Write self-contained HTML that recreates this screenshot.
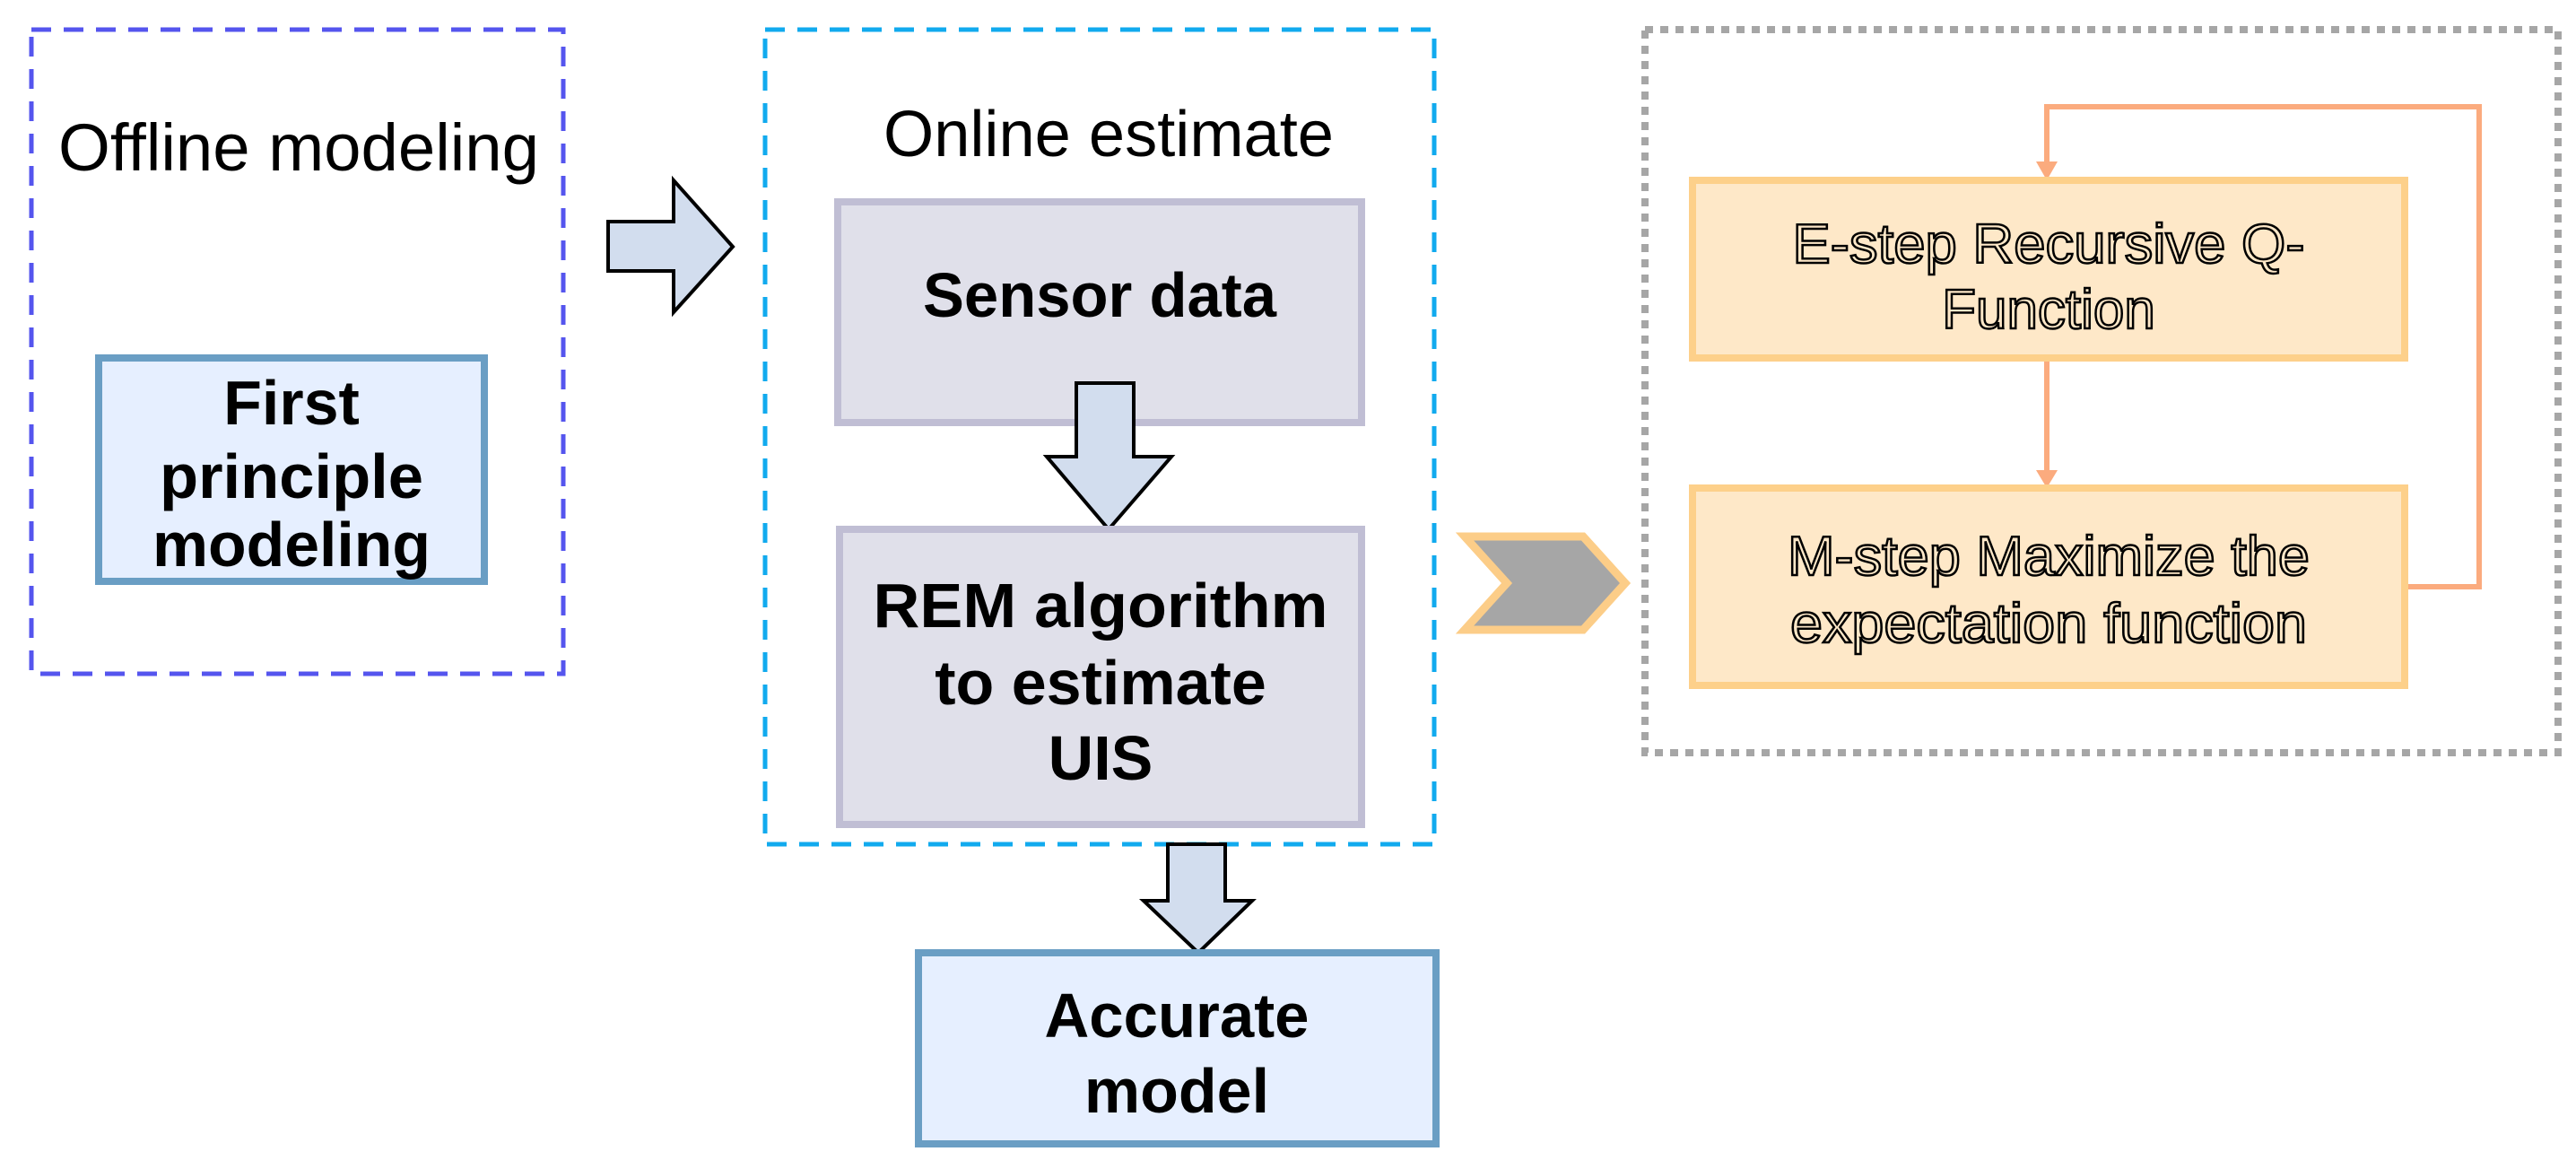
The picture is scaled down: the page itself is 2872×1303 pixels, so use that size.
<!DOCTYPE html>
<html><head><meta charset="utf-8"><style>
html,body{margin:0;padding:0;background:#fff;}
svg{display:block;}
text{font-family:"Liberation Sans",sans-serif;}
</style></head><body>
<svg width="2872" height="1303" viewBox="0 0 2872 1303" xmlns="http://www.w3.org/2000/svg">
<!-- Offline box -->
<rect x="35" y="33" width="593" height="718" fill="none" stroke="#5555ee" stroke-width="5" stroke-dasharray="22,14"/>
<text x="333" y="190" font-size="74" text-anchor="middle" fill="#000" textLength="536" lengthAdjust="spacingAndGlyphs">Offline modeling</text>
<rect x="110" y="399" width="430" height="249" fill="#e6efff" stroke="#6a9ec4" stroke-width="8"/>
<text x="325" y="473" font-size="70" font-weight="bold" text-anchor="middle">First</text>
<text x="325" y="555" font-size="70" font-weight="bold" text-anchor="middle" textLength="294" lengthAdjust="spacingAndGlyphs">principle</text>
<text x="325" y="631" font-size="70" font-weight="bold" text-anchor="middle" textLength="310" lengthAdjust="spacingAndGlyphs">modeling</text>
<!-- right arrow -->
<polygon points="678,247 751,247 751,201 817,275 751,348 751,302 678,302" fill="#d2ddee" stroke="#000" stroke-width="4"/>
<!-- Online box -->
<rect x="853" y="33" width="746" height="908" fill="none" stroke="#11aaee" stroke-width="5" stroke-dasharray="22,14"/>
<text x="1236" y="174" font-size="72" text-anchor="middle" textLength="502" lengthAdjust="spacingAndGlyphs">Online estimate</text>
<rect x="934" y="225" width="584" height="246" fill="#e0e0ea" stroke="#c0bed4" stroke-width="8"/>
<text x="1226" y="353" font-size="70" font-weight="bold" text-anchor="middle" textLength="394" lengthAdjust="spacingAndGlyphs">Sensor data</text>
<polygon points="1200,427 1264,427 1264,509 1306,509 1236,590 1167,509 1200,509" fill="#d2ddee" stroke="#000" stroke-width="4"/>
<rect x="936" y="590" width="582" height="329" fill="#e0e0ea" stroke="#c0bed4" stroke-width="8"/>
<text x="1227" y="699" font-size="70" font-weight="bold" text-anchor="middle" textLength="507" lengthAdjust="spacingAndGlyphs">REM algorithm</text>
<text x="1227" y="785" font-size="70" font-weight="bold" text-anchor="middle">to estimate</text>
<text x="1227" y="869" font-size="70" font-weight="bold" text-anchor="middle">UIS</text>
<polygon points="1302,941 1366,941 1366,1004 1396,1004 1336,1062 1275,1004 1302,1004" fill="#d2ddee" stroke="#000" stroke-width="4"/>
<rect x="1024" y="1062" width="577" height="213" fill="#e6efff" stroke="#6a9ec4" stroke-width="8"/>
<text x="1312" y="1156" font-size="70" font-weight="bold" text-anchor="middle" textLength="295" lengthAdjust="spacingAndGlyphs">Accurate</text>
<text x="1312" y="1240" font-size="70" font-weight="bold" text-anchor="middle">model</text>
<!-- chevron -->
<polygon points="1633,598 1765,598 1812,650 1765,702 1633,702 1680,650" fill="#a6a6a6" stroke="#fccd88" stroke-width="9"/>
<!-- grey dotted box -->
<rect x="1834" y="33" width="1018" height="806" fill="none" stroke="#a6a6a6" stroke-width="8" stroke-dasharray="9,8"/>
<!-- loop -->
<polyline points="2681,654 2764,654 2764,119 2282,119 2282,185" fill="none" stroke="#fbab7e" stroke-width="6"/>
<polygon points="2270,180 2294,180 2282,201" fill="#fbab7e"/>
<line x1="2282" y1="399" x2="2282" y2="528" stroke="#fbab7e" stroke-width="6"/>
<polygon points="2270,524 2294,524 2282,544" fill="#fbab7e"/>
<rect x="1887" y="201" width="794" height="198" fill="#fee8c8" stroke="#fdd08a" stroke-width="8"/>
<text x="2284" y="293" font-size="62" text-anchor="middle" fill="#fee8c8" stroke="#000" stroke-width="2.5" textLength="571" lengthAdjust="spacingAndGlyphs">E-step Recursive Q-</text>
<text x="2284" y="366" font-size="62" text-anchor="middle" fill="#fee8c8" stroke="#000" stroke-width="2.5">Function</text>
<rect x="1887" y="544" width="794" height="220" fill="#fee8c8" stroke="#fdd08a" stroke-width="8"/>
<text x="2284" y="641" font-size="62" text-anchor="middle" fill="#fee8c8" stroke="#000" stroke-width="2.5" textLength="582" lengthAdjust="spacingAndGlyphs">M-step Maximize the</text>
<text x="2284" y="716" font-size="62" text-anchor="middle" fill="#fee8c8" stroke="#000" stroke-width="2.5" textLength="576" lengthAdjust="spacingAndGlyphs">expectation function</text>
</svg>
</body></html>
